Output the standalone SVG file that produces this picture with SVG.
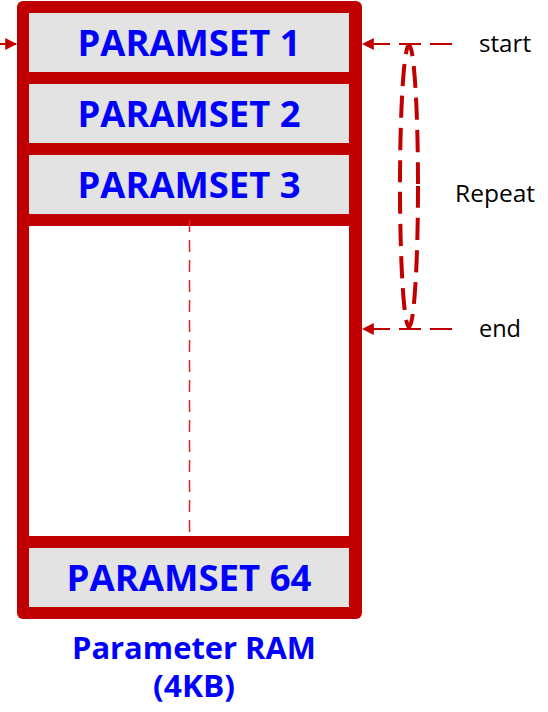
<svg xmlns="http://www.w3.org/2000/svg" width="548" height="712" viewBox="0 0 548 712">
  <style>
    .slot { fill: #e3e3e3; }
    .label { font-family: "Open Sans", "Liberation Sans", sans-serif; font-weight: bold; fill: #0000ff; text-anchor: middle; }
    .note { font-family: "Open Sans", "Liberation Sans", sans-serif; font-size: 23px; fill: #000000; }
    .ptr { stroke: #c00000; stroke-width: 2; stroke-dasharray: 22 9; fill: none; }
  </style>
  <defs>
    <marker id="tip" viewBox="0 0 10 10" refX="9" refY="5" markerWidth="12" markerHeight="12" markerUnits="userSpaceOnUse" orient="auto">
      <path d="M0,0 L10,5 L0,10 z" fill="#c00000"/>
    </marker>
  </defs>

  <!-- memory frame -->
  <g id="ram">
    <rect x="17" y="1" width="345" height="618" rx="6" fill="#c00000"/>
    <rect x="29" y="226" width="320" height="310" fill="#ffffff"/>
    <line x1="189.5" y1="220" x2="189.5" y2="532" stroke="#e0202a" stroke-width="1.5" stroke-dasharray="12 8"/>
  </g>

  <g id="paramset1">
    <rect class="slot" x="29" y="13" width="320" height="59"/>
    <text class="label" x="189" y="56" font-size="36" textLength="223" lengthAdjust="spacingAndGlyphs">PARAMSET 1</text>
  </g>
  <g id="paramset2">
    <rect class="slot" x="29" y="84" width="320" height="59"/>
    <text class="label" x="189" y="127" font-size="36" textLength="223" lengthAdjust="spacingAndGlyphs">PARAMSET 2</text>
  </g>
  <g id="paramset3">
    <rect class="slot" x="29" y="155" width="320" height="59"/>
    <text class="label" x="189" y="198" font-size="36" textLength="223" lengthAdjust="spacingAndGlyphs">PARAMSET 3</text>
  </g>
  <g id="paramset64">
    <rect class="slot" x="29" y="548" width="320" height="59"/>
    <text class="label" x="189" y="591" font-size="36" textLength="245" lengthAdjust="spacingAndGlyphs">PARAMSET 64</text>
  </g>

  <g id="caption">
    <text class="label" x="194" y="659" font-size="30" textLength="244" lengthAdjust="spacingAndGlyphs">Parameter RAM</text>
    <text class="label" x="194" y="697" font-size="30" textLength="82" lengthAdjust="spacingAndGlyphs">(4KB)</text>
  </g>

  <!-- pointers and repeat loop -->
  <g id="connectors">
    <line x1="0" y1="44" x2="16" y2="44" stroke="#c00000" stroke-width="2" marker-end="url(#tip)"/>
    <line class="ptr" x1="452" y1="44" x2="363" y2="44" marker-end="url(#tip)"/>
    <line class="ptr" x1="452" y1="329" x2="363" y2="329" marker-end="url(#tip)"/>
    <ellipse cx="409" cy="186" rx="9" ry="141" fill="none" stroke="#c00000" stroke-width="4" stroke-dasharray="22 10"/>
  </g>

  <g id="notes">
    <text class="note" x="479" y="52" textLength="52" lengthAdjust="spacingAndGlyphs">start</text>
    <text class="note" x="455" y="202" textLength="80" lengthAdjust="spacingAndGlyphs">Repeat</text>
    <text class="note" x="479" y="337" textLength="42" lengthAdjust="spacingAndGlyphs">end</text>
  </g>
</svg>
